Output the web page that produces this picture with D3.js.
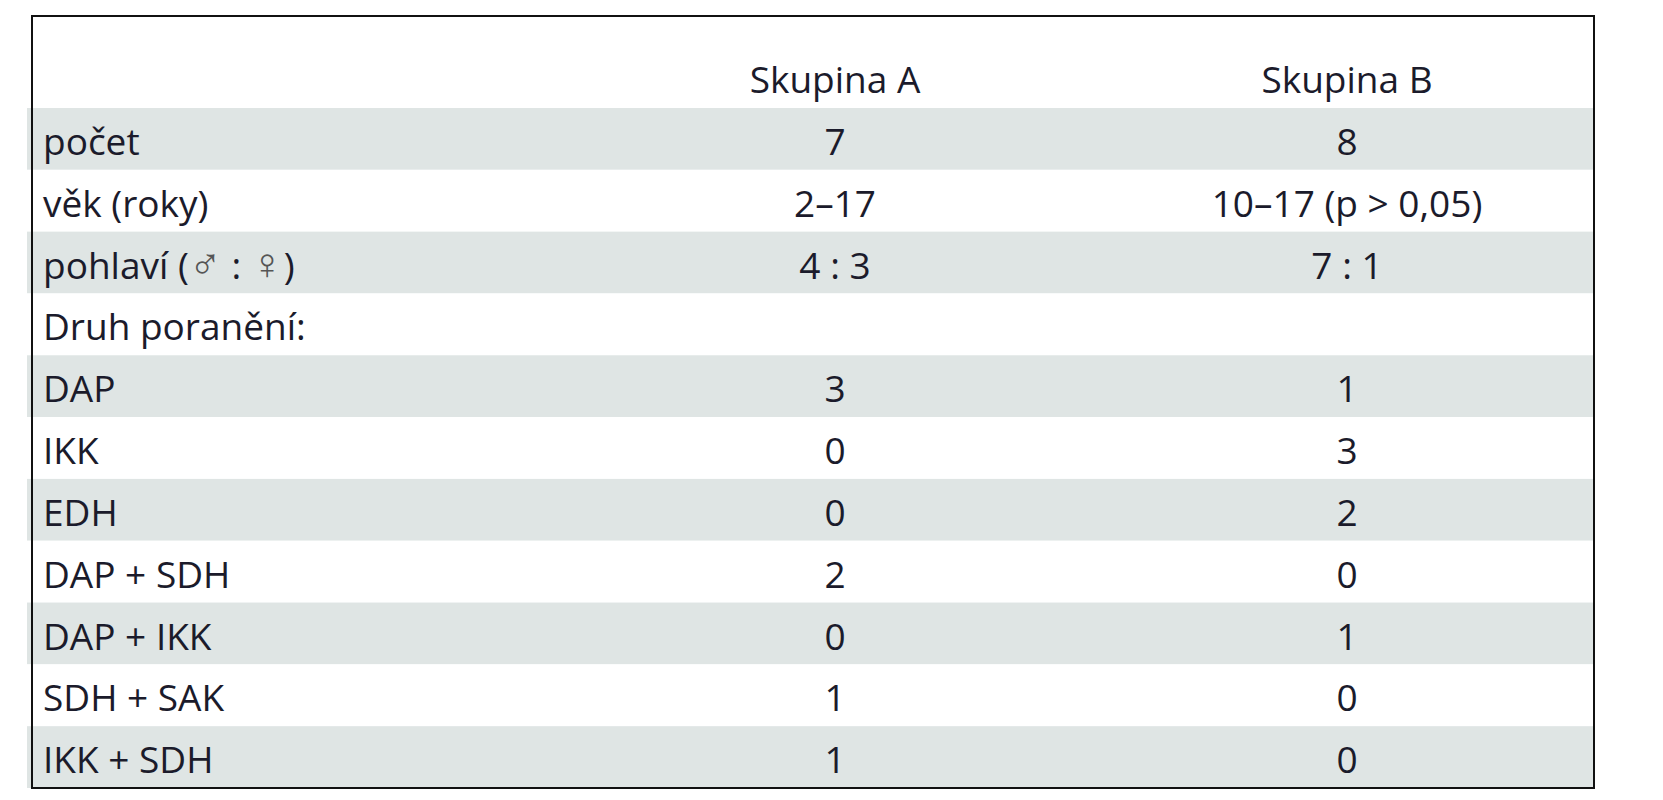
<!DOCTYPE html>
<html>
<head>
<script src="https://d3js.org/d3.v7.min.js"></script>
<style>body{margin:0;background:#fff}</style>
</head>
<body>
<svg width="1663" height="800"></svg>
<script>
var columns = ["Skupina A", "Skupina B"];
var rowLabels = ["počet", "věk (roky)", "pohlaví (♂ : ♀)", "Druh poranění:", "DAP", "IKK", "EDH",
    "DAP + SDH", "DAP + IKK", "SDH + SAK", "IKK + SDH"];
var groupA = ["7", "2–17", "4 : 3", "", "3", "0", "0", "2", "0", "1", "1"];
var groupB = ["8", "10–17 (p > 0,05)", "7 : 1", "", "1", "3", "2", "0", "1", "0", "0"];

var boxLeft = 32, boxRight = 1594, boxTop = 16, boxBottom = 788, headerBottom = 108;
var font = "'Open Sans', sans-serif", size = 37, ink = "#1b1b2b";

var svg = d3.select("svg");

var y = d3.scaleBand().domain(d3.range(rowLabels.length)).range([headerBottom, boxBottom]);
var x = d3.scalePoint().domain(columns).range([835, 1347]);

// striped rows
svg.selectAll("rect.row")
    .data(rowLabels)
    .enter().append("rect")
    .attr("class", "row")
    .attr("x", boxLeft - 5)
    .attr("y", function(d, i) { return y(i); })
    .attr("width", boxRight - boxLeft + 4)
    .attr("height", y.bandwidth())
    .attr("fill", function(d, i) { return i % 2 === 0 ? "#dfe5e4" : "#fff"; });

// header
svg.selectAll("text.head")
    .data(columns)
    .enter().append("text")
    .attr("x", function(d) { return x(d); })
    .attr("y", 93)
    .attr("text-anchor", "middle")
    .style("font-family", font).style("font-size", size + "px").attr("fill", ink)
    .text(function(d) { return d; });

var base = function(i) { return y(i) + 47; };

var labels = svg.selectAll("text.label")
    .data(rowLabels)
    .enter().append("text")
    .attr("x", 43)
    .attr("y", function(d, i) { return base(i); })
    .style("font-family", font).style("font-size", size + "px")
    .attr("fill", ink)
    .style("font-weight", function(d, i) { return i === 3 ? 500 : 400; });

// split gender symbols so they render in a font that has them at a decent size
labels.each(function(d) {
    var t = d3.select(this);
    d.split(/([♂♀])/).forEach(function(part) {
        if (!part) return;
        var sp = t.append("tspan").text(part);
        if (part === "♂" || part === "♀") {
            sp.style("font-family", "'DejaVu Sans'").style("font-size", "44px").style("font-weight", 200).attr("fill", "#555");
        }
    });
});

[groupA, groupB].forEach(function(vals, c) {
    svg.selectAll("text.v" + c)
        .data(vals)
        .enter().append("text")
        .attr("x", x(columns[c]))
        .attr("y", function(d, i) { return base(i); })
        .attr("text-anchor", "middle")
        .style("font-family", font).style("font-size", size + "px").attr("fill", ink)
        .text(function(d) { return d; });
});

// outer border
svg.append("rect")
    .attr("x", boxLeft).attr("y", boxTop)
    .attr("width", boxRight - boxLeft).attr("height", boxBottom - boxTop)
    .attr("fill", "none").attr("stroke", "#111").attr("stroke-width", 2);
</script>
</body>
</html>
